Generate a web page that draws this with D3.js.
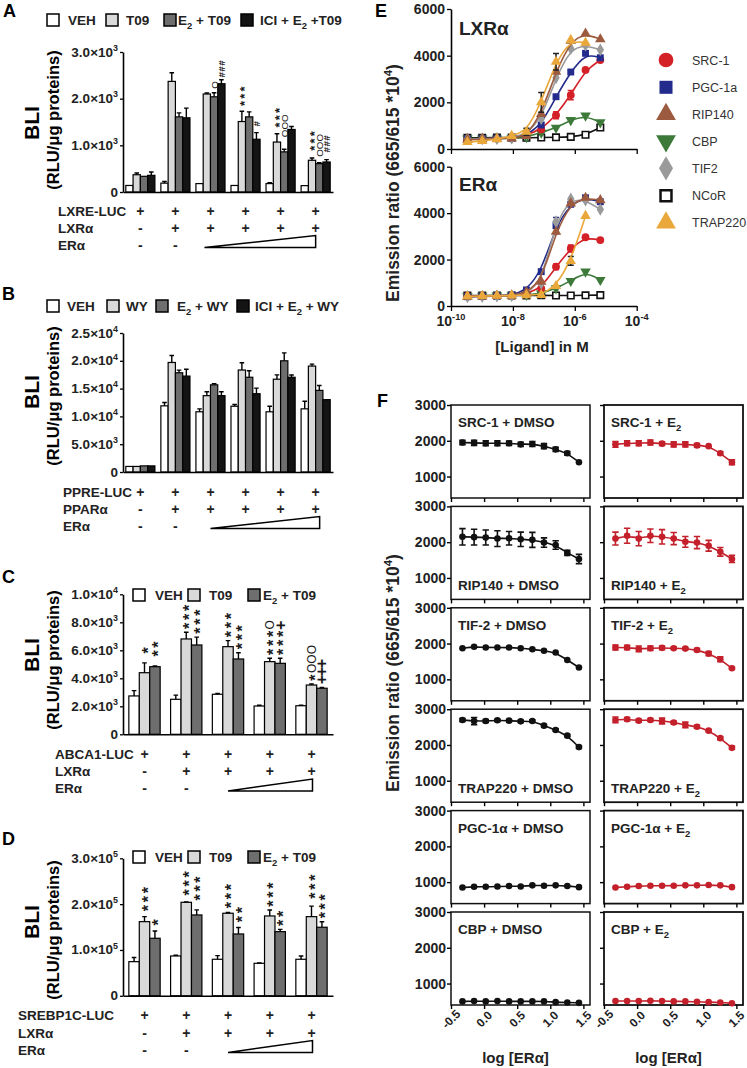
<!DOCTYPE html>
<html><head><meta charset="utf-8">
<script src="https://cdn.jsdelivr.net/npm/d3@7"></script>
<style>body{margin:0;background:#fff}svg{display:block}</style>
</head><body>
<script>
// ================= DATA =================
// ---- Panel A (LXRE-LUC) ----
const aSeries = ["VEH", "T09", "E_{2} + T09", "ICI + E_{2} +T09"];
const aVEH    = [140, 190, 180, 140, 180, 136];
const aT09    = [370, 2370, 2100, 1510, 1070, 680];
const aE2     = [336, 1610, 2040, 1610, 860, 607];
const aICI    = [357, 1590, 2320, 1130, 1340, 643];
const aVEHerr = [0, 36, 0, 0, 20, 0];
const aT09err = [36, 186, 21, 221, 179, 50];
const aE2err  = [0, 86, 86, 107, 57, 20];
const aICIerr = [70, 207, 86, 143, 64, 50];
const aTicks  = [0, 1000, 2000, 3000];
const aRowLabels = ["LXRE-LUC", "LXRα", "ERα"];
const aRow1 = ["+", "+", "+", "+", "+", "+"];
const aRow2 = ["-", "+", "+", "+", "+", "+"];
const aRow3 = ["-", "-"];
const aAnnot = [[2,2,"O"],[2,3,"###"],[3,1,"***"],[3,3,"#"],[4,1,"***"],[4,2,"OOO"],[5,1,"***"],[5,2,"OOO"],[5,3,"###"]];

// ---- Panel B (PPRE-LUC) ----
const bSeries = ["VEH", "WY", "E_{2} + WY", "ICI + E_{2} + WY"];
const bVEH    = [1000, 11900, 10830, 11830, 10830, 11360];
const bWY     = [1000, 19700, 13730, 18340, 16690, 19050];
const bE2     = [1100, 17850, 15680, 17040, 20000, 14680];
const bICI    = [1100, 17250, 13730, 14080, 17040, 13020];
const bVEHerr = [0, 600, 530, 300, 1000, 1360];
const bWYerr  = [0, 1240, 700, 1300, 770, 350];
const bE2err  = [0, 470, 200, 1180, 1420, 890];
const bICIerr = [0, 1240, 700, 1000, 400, 0];
const bTicks  = [0, 5000, 10000, 15000, 20000, 25000];
const bRowLabels = ["PPRE-LUC", "PPARα", "ERα"];
const bRow1 = ["+", "+", "+", "+", "+", "+"];
const bRow2 = ["-", "+", "+", "+", "+", "+"];
const bRow3 = ["-", "-"];

// ---- Panel C (ABCA1-LUC) ----
const cSeries = ["VEH", "T09", "E_{2} + T09"];
const cVEH    = [2740, 2500, 2860, 2020, 2040];
const cT09    = [4400, 6810, 6260, 5190, 3520];
const cE2     = [4830, 6380, 5380, 5070, 3290];
const cVEHerr = [380, 300, 60, 50, 40];
const cT09err = [700, 480, 430, 240, 70];
const cE2err  = [50, 560, 450, 360, 50];
const cTicks  = [0, 2000, 4000, 6000, 8000, 10000];
const cRowLabels = ["ABCA1-LUC", "LXRα", "ERα"];
const cRow1 = ["+", "+", "+", "+", "+"];
const cRow2 = ["-", "+", "+", "+", "+"];
const cRow3 = ["-", "-"];
const cAnnot = [[0,1,"*"],[0,2,"**"],[1,1,"***"],[1,2,"***"],[2,1,"***"],[2,2,"***"],[3,1,"***O"],[3,2,"***+"],[4,1,"*OOO"],[4,2,"+++"]];

// ---- Panel D (SREBP1C-LUC) ----
const dSeries = ["VEH", "T09", "E_{2} + T09"];
const dVEH    = [74500, 86900, 79700, 70900, 79700];
const dT09    = [161800, 204000, 180100, 174200, 172700];
const dE2     = [125500, 176400, 134900, 140000, 149600];
const dVEHerr = [9000, 1500, 8000, 1000, 7000];
const dT09err = [11000, 1000, 1500, 13000, 23000];
const dE2err  = [16000, 11000, 14000, 5000, 12000];
const dTicks  = [0, 100000, 200000, 300000];
const dRowLabels = ["SREBP1C-LUC", "LXRα", "ERα"];
const dRow1 = ["+", "+", "+", "+", "+"];
const dRow2 = ["-", "+", "+", "+", "+"];
const dRow3 = ["-", "-"];
const dAnnot = [[0,1,"***"],[0,2,"*"],[1,1,"***"],[1,2,"***"],[2,1,"***"],[2,2,"**"],[3,1,"***"],[3,2,"**"],[4,1,"***"],[4,2,"***"]];

// ---- Panel E (coactivator recruitment) ----
const eConc = [3.39e-10, 1.02e-9, 3.05e-9, 9.14e-9, 2.74e-8, 8.23e-8, 2.47e-7, 7.41e-7, 2.22e-6, 6.67e-6];
const eNames = ["SRC-1", "PGC-1a", "RIP140", "CBP", "TIF2", "NCoR", "TRAP220"];
const eLxrSRC1    = [430, 440, 450, 480, 600, 840, 1450, 2310, 3390, 3810];
const eLxrPGC1a   = [430, 440, 450, 470, 600, 1030, 2240, 3300, 4100, 3910];
const eLxrRIP140  = [400, 420, 430, 450, 560, 1500, 3310, 4640, 4950, 4700];
const eLxrCBP     = [450, 450, 450, 460, 510, 700, 910, 1240, 1430, 1140];
const eLxrTIF2    = [430, 440, 450, 470, 650, 1300, 3050, 4310, 4450, 4250];
const eLxrNCoR    = [480, 480, 490, 490, 480, 490, 500, 520, 610, 920];
const eLxrTRAP220 = [300, 340, 420, 560, 740, 2000, 3740, 4670, 4550, null];
const eErSRC1     = [430, 430, 440, 450, 550, 760, 1690, 2480, 2960, 2840];
const eErPGC1a    = [400, 420, 430, 470, 690, 1480, 3460, 4380, 4660, 4490];
const eErRIP140   = [400, 410, 430, 450, 600, 1050, 3200, 4420, 4660, 4560];
const eErCBP      = [430, 440, 450, 450, 480, 550, 760, 1080, 1480, 1120];
const eErTIF2     = [400, 410, 430, 450, 550, 980, 3630, 4610, 4560, 4160];
const eErNCoR     = [450, 450, 450, 450, 450, 460, 450, 450, 460, 470];
const eErTRAP220  = [420, 430, 440, 450, 470, 480, 860, 1940, 3880, null];
const eLxrErrSRC1    = [0, 0, 0, 0, 0, 0, 150, 200, 0, 0];
const eLxrErrTRAP220 = [0, 0, 0, 0, 150, 420, 350, 0, 0, 0];
const eErErrPGC1a    = [0, 0, 0, 0, 0, 0, 350, 0, 0, 0];
const eErErrSRC1     = [0, 0, 0, 0, 0, 0, 120, 150, 0, 0];
const eErErrTRAP220  = [0, 0, 0, 0, 0, 0, 0, 190, 0, 0];
const eTicksY = [0, 2000, 4000, 6000];
const eTicksX = [1e-10, 1e-8, 1e-6, 1e-4];

// ---- Panel F (ERα titration) ----
const fLogER = [-0.327, -0.151, 0.025, 0.201, 0.377, 0.553, 0.729, 0.905, 1.081, 1.257, 1.433];
const fNames = ["SRC-1", "RIP140", "TIF-2", "TRAP220", "PGC-1α", "CBP"];
const fSRC1Dmso = [1950, 1940, 1930, 1930, 1930, 1900, 1910, 1850, 1760, 1650, 1400];
const fSRC1E2   = [1900, 1930, 1930, 1950, 1920, 1900, 1900, 1870, 1850, 1650, 1400];
const fRIP140Dmso = [2150, 2140, 2130, 2100, 2110, 2080, 2065, 1990, 1920, 1700, 1530];
const fRIP140E2   = [2100, 2180, 2100, 2180, 2150, 2100, 2010, 1990, 1900, 1730, 1530];
const fTIF2Dmso = [1870, 1910, 1890, 1890, 1890, 1870, 1840, 1800, 1750, 1540, 1330];
const fTIF2E2   = [1890, 1890, 1850, 1870, 1880, 1870, 1860, 1820, 1720, 1560, 1310];
const fTRAP220Dmso = [2700, 2670, 2670, 2690, 2680, 2660, 2670, 2540, 2420, 2260, 1940];
const fTRAP220E2   = [2700, 2720, 2680, 2700, 2670, 2630, 2560, 2510, 2400, 2190, 1920];
const fPGC1Dmso = [850, 870, 870, 880, 890, 880, 910, 900, 910, 890, 860];
const fPGC1E2   = [850, 870, 890, 900, 900, 900, 910, 910, 920, 910, 860];
const fCBPDmso  = [500, 510, 500, 510, 500, 500, 500, 500, 480, 470, 460];
const fCBPE2    = [510, 510, 510, 520, 510, 500, 500, 490, 480, 470, 450];
const fSRC1DmsoErr = [60, 70, 70, 70, 60, 60, 70, 70, 60, 50, 0];
const fSRC1E2Err   = [80, 70, 70, 70, 50, 70, 70, 50, 0, 40, 70];
const fRIP140DmsoErr = [230, 220, 210, 220, 190, 200, 210, 130, 120, 70, 130];
const fRIP140E2Err   = [180, 210, 200, 190, 200, 170, 150, 170, 150, 120, 100];
const fTIF2DmsoErr = [20, 20, 20, 20, 20, 20, 20, 20, 20, 20, 20];
const fTIF2E2Err   = [70, 60, 80, 60, 50, 30, 30, 40, 60, 70, 30];
const fTRAP220DmsoErr = [40, 100, 40, 30, 30, 30, 30, 30, 30, 30, 40];
const fTRAP220E2Err   = [80, 50, 40, 40, 80, 40, 80, 40, 30, 40, 40];
const fPGC1DmsoErr = [20, 20, 20, 20, 20, 20, 20, 20, 20, 20, 20];
const fPGC1E2Err   = [20, 20, 20, 20, 20, 20, 20, 20, 20, 20, 20];
const fCBPDmsoErr  = [20, 20, 20, 20, 20, 20, 20, 20, 20, 20, 20];
const fCBPE2Err    = [20, 20, 20, 20, 20, 20, 20, 20, 20, 20, 20];
const fTicksY = [1000, 2000, 3000];
const fTicksX = [-0.5, 0.0, 0.5, 1.0, 1.5];

// ================= DRAWING =================
const FONT = "'Liberation Sans', Arial, Helvetica, sans-serif";
const svg = d3.select("body").append("svg").attr("width", 747).attr("height", 1068)
  .style("font-family", FONT);

function rich(sel, str, bs) {
  const parts = str.split(/(_\{[^}]*\}|\^\{[^}]*\})/).filter(s => s.length);
  let shift = 0;
  parts.forEach(p => {
    if (p.startsWith("_{")) {
      sel.append("tspan").attr("dy", bs * 0.3 - shift).attr("font-size", bs * 0.7).text(p.slice(2, -1));
      shift = bs * 0.3;
    } else if (p.startsWith("^{")) {
      sel.append("tspan").attr("dy", -bs * 0.42 - shift).attr("font-size", bs * 0.66).text(p.slice(2, -1));
      shift = -bs * 0.42;
    } else {
      sel.append("tspan").attr("dy", -shift).text(p);
      shift = 0;
    }
  });
  return sel;
}
function sciLabel(v) {
  if (v === 0) return "0";
  const e = Math.floor(Math.log10(v) + 1e-9);
  return (v / Math.pow(10, e)).toFixed(1) + "×10^{" + e + "}";
}
function letter(t, x, y) {
  svg.append("text").attr("x", x).attr("y", y).attr("font-size", 18).attr("font-weight", "bold").text(t);
}
// vertically stacked significance marks, drawn as one rotated text
function stackText(g, x, yBottom, str, fs) {
  const t = g.append("text").attr("transform", `translate(${x},${yBottom}) rotate(-90)`)
    .attr("fill", "#1a1a1a").attr("font-weight", "bold");
  let pos = 0;
  str.split("").forEach(ch => {
    let f, h, w, off, wt = "bold";
    if (ch === "#") { f = fs * 0.75; h = 0.6 * f; w = 0.556 * f; off = 0.36; }
    else if (ch === "O") { f = fs * 0.75; h = 0.78 * f; w = 0.778 * f; off = 0.36; wt = "normal"; }
    else if (ch === "+") { f = fs; h = 0.5 * f; w = 0.584 * f; off = 0.34; }
    else { f = fs; h = 0.56 * f; w = 0.389 * f; off = 0.57; }
    t.append("tspan").attr("x", pos + (h - w) / 2).attr("y", off * f).attr("font-size", f)
      .attr("font-weight", wt).text(ch);
    pos += h;
  });
}

function barPanel(cfg) {
  const g = svg.append("g");
  const n = cfg.values[0].length;
  const y = d3.scaleLinear().domain([0, cfg.yMax]).range([cfg.y0, cfg.y1]);
  const gx = d3.scaleBand().domain(d3.range(n)).range([cfg.x0, cfg.x1]).paddingInner(cfg.pi).paddingOuter(cfg.po);
  const bx = d3.scaleBand().domain(d3.range(cfg.values.length)).range([0, gx.bandwidth()]);
  const bw = bx.bandwidth();
  cfg.values.forEach((vals, si) => {
    const errs = cfg.errors[si];
    g.selectAll(null).data(vals).join("rect")
      .attr("x", (d, i) => gx(i) + bx(si)).attr("width", bw)
      .attr("y", d => y(d)).attr("height", d => y(0) - y(d))
      .attr("fill", cfg.colors[si]).attr("stroke", "#000").attr("stroke-width", 1.2);
    g.selectAll(null).data(vals).join("path")
      .attr("d", (d, i) => {
        if (!errs[i]) return null;
        const cx = gx(i) + bx(si) + bw / 2, yt = y(d + errs[i]);
        return `M${cx},${y(d)}V${yt}M${cx - 2.3},${yt}H${cx + 2.3}`;
      })
      .attr("stroke", "#000").attr("stroke-width", 1.4).attr("fill", "none");
  });
  const ya = g.append("g").attr("transform", `translate(${cfg.x0},0)`)
    .call(d3.axisLeft(y).tickValues(cfg.ticks).tickSize(3).tickSizeOuter(0).tickFormat(""));
  ya.select(".domain").attr("stroke-width", 1.6);
  ya.selectAll(".tick line").attr("stroke-width", 1.3);
  cfg.ticks.forEach(t => {
    rich(g.append("text").attr("x", cfg.x0 - 5).attr("y", y(t) + 4.5).attr("text-anchor", "end")
      .attr("font-size", 13.5).attr("font-weight", "bold").attr("fill", "#222"), sciLabel(t), 13.5);
  });
  const xa = g.append("g").attr("transform", `translate(0,${cfg.y0})`)
    .call(d3.axisBottom(gx).tickValues([]).tickSizeOuter(0));
  xa.select(".domain").attr("stroke-width", 1.6);
  g.append("text").attr("transform", `translate(39,${cfg.titleY}) rotate(-90)`).attr("text-anchor", "middle")
    .attr("font-size", 21).attr("font-weight", "bold").text("BLI");
  g.append("text").attr("transform", `translate(59,${cfg.titleY2}) rotate(-90)`).attr("text-anchor", "middle")
    .attr("font-size", 16.5).attr("font-weight", "bold").text("(RLU/μg proteins)");
  cfg.series.forEach((s, si) => {
    g.append("rect").attr("x", cfg.legBox[si]).attr("y", cfg.legY - 6).attr("width", 12).attr("height", 12)
      .attr("fill", cfg.colors[si]).attr("stroke", "#000").attr("stroke-width", 1.5);
    rich(g.append("text").attr("x", cfg.legText[si]).attr("y", cfg.legY + 5).attr("font-size", 13.5)
      .attr("font-weight", "bold").attr("fill", "#222"), s, 13.5);
  });
  (cfg.annot || []).forEach((a, k) => {
    const [gi, si, str] = a;
    const v = cfg.values[si][gi] + (cfg.errors[si][gi] || 0);
    const cx = gx(gi) + bx(si) + bw / 2;
    stackText(g, cx, y(v) - 2 - (cfg.lift ? cfg.lift[k] : 0), str, cfg.annotFs);
  });
  const centers = d3.range(n).map(i => gx(i) + gx.bandwidth() / 2);
  cfg.rowLabels.forEach((lab, r) => {
    g.append("text").attr("x", cfg.rowLabelX).attr("y", cfg.rowY[r]).attr("font-size", 13.5)
      .attr("font-weight", "bold").attr("fill", "#222").text(lab);
  });
  [cfg.row1, cfg.row2, cfg.row3].forEach((row, r) => {
    row.forEach((t, i) => {
      g.append("text").attr("x", centers[i]).attr("y", cfg.rowY[r]).attr("text-anchor", "middle")
        .attr("font-size", 14).attr("font-weight", "bold").attr("fill", "#222").text(t);
    });
  });
  const tl = centers[2] - cfg.triL, tr = centers[n - 1] + cfg.triR, tb = cfg.rowY[2] - 2;
  g.append("path").attr("d", `M${tl},${tb}L${tr},${tb - 12}L${tr},${tb}Z`)
    .attr("fill", "#fff").attr("stroke", "#000").attr("stroke-width", 1.5);
}

const greys4 = ["#ffffff", "#d9d9d9", "#6e6e6e", "#141414"];
const greys3 = ["#ffffff", "#d9d9d9", "#6e6e6e"];

letter("A", 3, 17);
barPanel({
  values: [aVEH, aT09, aE2, aICI], errors: [aVEHerr, aT09err, aE2err, aICIerr],
  series: aSeries, colors: greys4, yMax: 3000, ticks: aTicks,
  x0: 123, x1: 333, y0: 192, y1: 52, pi: 0.17, po: 0.08,
  titleY: 123, titleY2: 120, legY: 20, legBox: [47, 106, 164, 241], legText: [68, 126, 178, 260],
  annot: aAnnot, lift: [2, 0, 2, 4, 3, 10, 4, 4, 5], annotFs: 13,
  rowLabels: aRowLabels, rowLabelX: 58, rowY: [216, 232.5, 249.5], row1: aRow1, row2: aRow2, row3: aRow3,
  triL: 6, triR: 0
});

letter("B", 2, 300);
barPanel({
  values: [bVEH, bWY, bE2, bICI], errors: [bVEHerr, bWYerr, bE2err, bICIerr],
  series: bSeries, colors: greys4, yMax: 25000, ticks: bTicks,
  x0: 123, x1: 333, y0: 472, y1: 333, pi: 0.17, po: 0.08,
  titleY: 392, titleY2: 396, legY: 306, legBox: [47, 107, 156, 237], legText: [67, 126, 177, 255],
  annot: [], annotFs: 13,
  rowLabels: bRowLabels, rowLabelX: 63, rowY: [497, 514, 530.5], row1: bRow1, row2: bRow2, row3: bRow3,
  triL: 0, triR: 4
});

letter("C", 2, 583);
barPanel({
  values: [cVEH, cT09, cE2], errors: [cVEHerr, cT09err, cE2err],
  series: cSeries, colors: greys3, yMax: 10000, ticks: cTicks,
  x0: 123, x1: 333, y0: 734.3, y1: 594.3, pi: 0.25, po: 0.14,
  titleY: 655, titleY2: 660, legY: 595, legBox: [133, 188, 248], legText: [155, 209, 263],
  annot: cAnnot, lift: [6, 6, 0, 0, 0, 0, 0, 0, 0, 2], annotFs: 16,
  rowLabels: cRowLabels, rowLabelX: 55, rowY: [759, 776, 793], row1: cRow1, row2: cRow2, row3: cRow3,
  triL: 0, triR: 1
});

letter("D", 2, 845);
barPanel({
  values: [dVEH, dT09, dE2], errors: [dVEHerr, dT09err, dE2err],
  series: dSeries, colors: greys3, yMax: 300000, ticks: dTicks,
  x0: 123, x1: 333, y0: 995.8, y1: 858.3, pi: 0.25, po: 0.14,
  titleY: 922, titleY2: 930, legY: 857, legBox: [133, 188, 248], legText: [155, 209, 263],
  annot: dAnnot, lift: [2, 2, 3, 6, 1, 2, 0, 0, 4, 0], annotFs: 16,
  rowLabels: dRowLabels, rowLabelX: 18, rowY: [1020, 1037.5, 1054.5], row1: dRow1, row2: dRow2, row3: dRow3,
  triL: 0, triR: 1
});

// ---------- Panel E ----------
letter("E", 375, 17);
const eColors = ["#d42027", "#232b8c", "#9c5b3e", "#3d7a3a", "#9a9a9a", "#111111", "#eaa73a"];
const eSym = [d3.symbolCircle, d3.symbolSquare, d3.symbolTriangle, d3.symbolTriangle, d3.symbolDiamond, d3.symbolSquare, d3.symbolTriangle];
const eRot = [0, 0, 0, 180, 0, 0, 0];
const xE = d3.scaleLog().domain([1e-10, 1e-4]).range([451, 636.7]);
const ePanels = [
  { y: d3.scaleLinear().domain([0, 6000]).range([149, 9]), label: "LXRα", labelY: 35,
    data: [eLxrSRC1, eLxrPGC1a, eLxrRIP140, eLxrCBP, eLxrTIF2, eLxrNCoR, eLxrTRAP220],
    errs: { 0: eLxrErrSRC1, 6: eLxrErrTRAP220 } },
  { y: d3.scaleLinear().domain([0, 6000]).range([306, 166.7]), label: "ERα", labelY: 191,
    data: [eErSRC1, eErPGC1a, eErRIP140, eErCBP, eErTIF2, eErNCoR, eErTRAP220],
    errs: { 0: eErErrSRC1, 1: eErErrPGC1a, 6: eErErrTRAP220 } }
];
const drawOrder = [5, 3, 0, 1, 4, 2, 6];
ePanels.forEach((p, pi) => {
  const g = svg.append("g");
  const ya = g.append("g").attr("transform", "translate(451,0)")
    .call(d3.axisLeft(p.y).tickValues(eTicksY).tickSize(4).tickSizeOuter(0).tickFormat(""));
  ya.select(".domain").attr("stroke-width", 1.6);
  ya.selectAll(".tick line").attr("stroke-width", 1.3);
  eTicksY.forEach(t => g.append("text").attr("x", 445).attr("y", p.y(t) + 5).attr("text-anchor", "end")
    .attr("font-size", 14).attr("font-weight", "bold").attr("fill", "#222").text(t));
  const xa = g.append("g").attr("transform", `translate(0,${p.y(0)})`)
    .call(d3.axisBottom(xE).tickValues(eTicksX).tickSize(5).tickSizeOuter(0).tickFormat(""));
  xa.select(".domain").attr("stroke-width", 1.6);
  xa.selectAll(".tick line").attr("stroke-width", 1.3);
  g.append("text").attr("x", 459).attr("y", p.labelY).attr("font-size", 19).attr("font-weight", "bold")
    .attr("fill", "#222").text(p.label);
  drawOrder.forEach(si => {
    const vals = p.data[si];
    const pts = eConc.map((c, i) => [c, vals[i], i]).filter(d => d[1] != null);
    g.append("path").datum(pts)
      .attr("d", d3.line().x(d => xE(d[0])).y(d => p.y(d[1])).curve(d3.curveBasis))
      .attr("fill", "none").attr("stroke", eColors[si]).attr("stroke-width", 1.6);
    const er = p.errs[si];
    if (er) {
      pts.forEach(d => {
        const e = er[d[2]];
        if (!e) return;
        const cx = xE(d[0]);
        g.append("path").attr("d", `M${cx},${p.y(d[1] - e)}V${p.y(d[1] + e)}M${cx - 3},${p.y(d[1] + e)}H${cx + 3}M${cx - 3},${p.y(d[1] - e)}H${cx + 3}`)
          .attr("stroke", si === 6 ? "#222" : eColors[si]).attr("stroke-width", 1.5).attr("fill", "none");
      });
    }
    g.selectAll(null).data(pts).join("path")
      .attr("transform", d => `translate(${xE(d[0])},${p.y(d[1])}) rotate(${eRot[si]})`)
      .attr("d", d3.symbol().type(eSym[si]).size(si === 5 ? 42 : 48))
      .attr("fill", si === 5 ? "#fff" : eColors[si])
      .attr("stroke", si === 5 ? "#111" : "none").attr("stroke-width", 1.6);
  });
  if (pi === 1) {
    eTicksX.forEach(t => {
      rich(g.append("text").attr("x", xE(t)).attr("y", 326).attr("text-anchor", "middle")
        .attr("font-size", 14).attr("font-weight", "bold").attr("fill", "#222"),
        "10^{" + Math.round(Math.log10(t)) + "}", 14);
    });
  }
});
svg.append("text").attr("x", 542).attr("y", 352).attr("text-anchor", "middle")
  .attr("font-size", 15).attr("font-weight", "bold").attr("fill", "#222").text("[Ligand] in M");
rich(svg.append("text").attr("transform", "translate(399,183) rotate(-90)").attr("text-anchor", "middle")
  .attr("font-size", 17.5).attr("font-weight", "bold").attr("fill", "#222"), "Emission ratio (665/615 *10^{4})", 17.5);
const eLegY = [60, 87.3, 114.3, 141, 168.3, 195.7, 222.7];
eNames.forEach((nm, si) => {
  svg.append("path").attr("transform", `translate(666,${eLegY[si]}) rotate(${eRot[si]})`)
    .attr("d", d3.symbol().type(eSym[si]).size(si === 5 ? 120 : 170))
    .attr("fill", si === 5 ? "#fff" : eColors[si])
    .attr("stroke", si === 5 ? "#111" : "none").attr("stroke-width", 2.5);
  svg.append("text").attr("x", 692).attr("y", eLegY[si] + 4.5).attr("font-size", 12.5)
    .attr("fill", "#333").text(nm);
});

// ---------- Panel F ----------
letter("F", 377, 407);
const fDmso = [fSRC1Dmso, fRIP140Dmso, fTIF2Dmso, fTRAP220Dmso, fPGC1Dmso, fCBPDmso];
const fE2 = [fSRC1E2, fRIP140E2, fTIF2E2, fTRAP220E2, fPGC1E2, fCBPE2];
const fDmsoErr = [fSRC1DmsoErr, fRIP140DmsoErr, fTIF2DmsoErr, fTRAP220DmsoErr, fPGC1DmsoErr, fCBPDmsoErr];
const fE2Err = [fSRC1E2Err, fRIP140E2Err, fTIF2E2Err, fTRAP220E2Err, fPGC1E2Err, fCBPE2Err];
const fBottomLabel = [false, true, false, true, false, false];
const fCols = [{ x0: 451, x1: 590, data: fDmso, errs: fDmsoErr, color: "#111", suffix: " + DMSO" },
               { x0: 604, x1: 743, data: fE2, errs: fE2Err, color: "#c4202b", suffix: " + E_{2}" }];
const fTop0 = 405, fStep = 101.4, fH = 93;
fNames.forEach((nm, r) => {
  const top = fTop0 + r * fStep, bot = top + fH;
  const y = d3.scaleLinear().domain([400, 3000]).range([bot, top]);
  fCols.forEach((c, ci) => {
    const g = svg.append("g");
    const x = d3.scaleLinear().domain([-0.5, 1.6]).range([c.x0, c.x1]);
    g.append("rect").attr("x", c.x0).attr("y", top).attr("width", c.x1 - c.x0).attr("height", fH)
      .attr("fill", "none").attr("stroke", "#111").attr("stroke-width", ci ? 1.8 : 1.5);
    const ya = g.append("g").attr("transform", `translate(${c.x0},0)`)
      .call(d3.axisLeft(y).tickValues(fTicksY).tickSize(4).tickSizeOuter(0).tickFormat(""));
    ya.select(".domain").remove();
    ya.selectAll(".tick line").attr("stroke-width", 1.4);
    const xa = g.append("g").attr("transform", `translate(0,${bot})`)
      .call(d3.axisBottom(x).tickValues(fTicksX).tickSize(4).tickSizeOuter(0).tickFormat(""));
    xa.select(".domain").remove();
    xa.selectAll(".tick line").attr("stroke-width", 1.4);
    if (ci === 0) {
      fTicksY.forEach(t => g.append("text").attr("x", c.x0 - 5).attr("y", y(t) + 5).attr("text-anchor", "end")
        .attr("font-size", 14).attr("font-weight", "bold").attr("fill", "#222").text(t));
    }
    const vals = c.data[r], errs = c.errs[r];
    const pts = fLogER.map((lx, i) => [lx, vals[i], errs[i]]);
    g.append("path").datum(pts).attr("d", d3.line().x(d => x(d[0])).y(d => y(d[1])).curve(d3.curveBasis))
      .attr("fill", "none").attr("stroke", c.color).attr("stroke-width", 1.6);
    g.selectAll(null).data(pts.filter(d => d[2] > 25)).join("path")
      .attr("d", d => {
        const cx = x(d[0]), a = y(d[1] + d[2]), b = y(d[1] - d[2]);
        return `M${cx},${a}V${b}M${cx - 3.2},${a}H${cx + 3.2}M${cx - 3.2},${b}H${cx + 3.2}`;
      })
      .attr("stroke", c.color).attr("stroke-width", 1.6).attr("fill", "none");
    g.selectAll(null).data(pts).join("circle")
      .attr("cx", d => x(d[0])).attr("cy", d => y(d[1])).attr("r", 3.3).attr("fill", c.color);
    rich(g.append("text").attr("x", c.x0 + 7).attr("y", fBottomLabel[r] ? bot - 9 : top + 22)
      .attr("font-size", 13.5).attr("font-weight", "bold").attr("fill", "#222"), nm + c.suffix, 13.5);
    if (r === fNames.length - 1) {
      fTicksX.forEach(t => {
        g.append("text").attr("transform", `translate(${x(t) + 3},${bot + 17}) rotate(-45)`)
          .attr("text-anchor", "middle").attr("font-size", 12).attr("font-weight", "bold").attr("fill", "#222")
          .text(t.toFixed(1));
      });
      g.append("text").attr("x", (c.x0 + c.x1) / 2 - 5).attr("y", 1063).attr("text-anchor", "middle")
        .attr("font-size", 15).attr("font-weight", "bold").attr("fill", "#222").text("log [ERα]");
    }
  });
});
rich(svg.append("text").attr("transform", "translate(399,673) rotate(-90)").attr("text-anchor", "middle")
  .attr("font-size", 17.5).attr("font-weight", "bold").attr("fill", "#222"), "Emission ratio (665/615 *10^{4})", 17.5);
</script>
</body></html>
